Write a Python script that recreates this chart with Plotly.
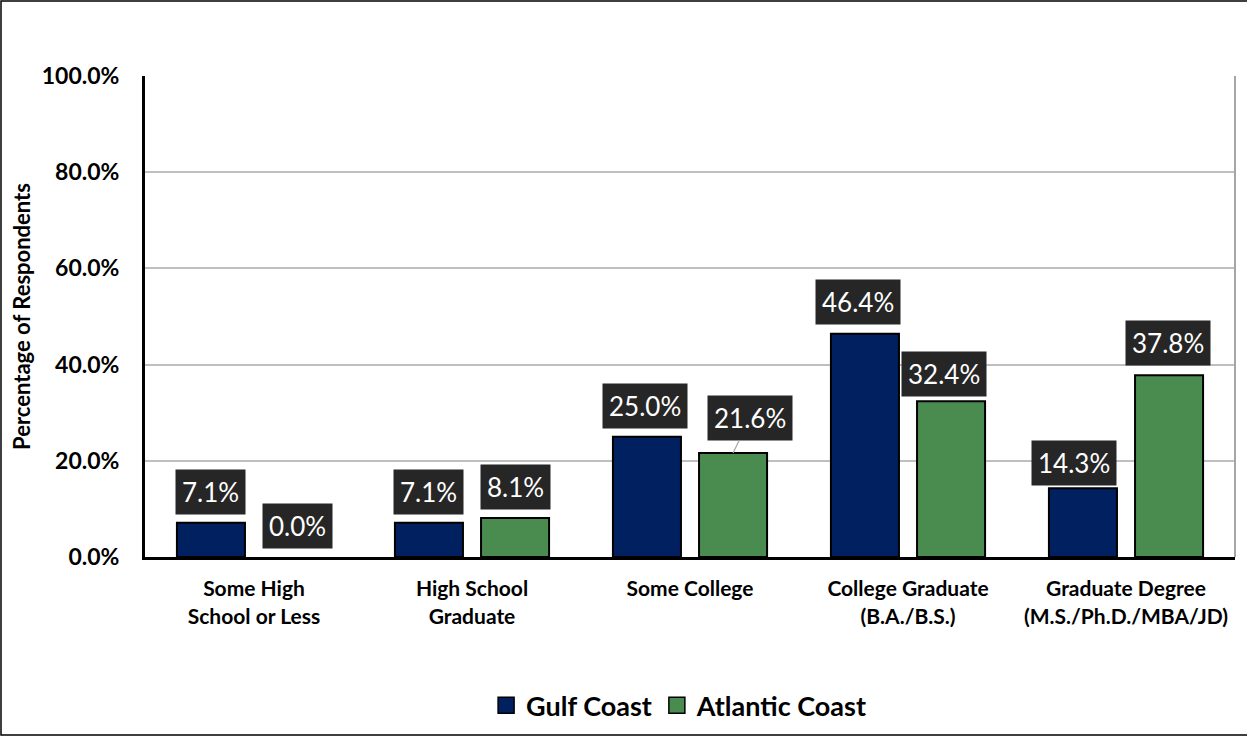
import plotly.graph_objects as go

# Education level of respondents, by coast
categories = ["Some High<br>School or Less", "High School<br>Graduate", "Some College",
              "College Graduate<br>(B.A./B.S.)", "Graduate Degree<br>(M.S./Ph.D./MBA/JD)"]
gulf = [7.1, 7.1, 25.0, 46.4, 14.3]
atlantic = [0.0, 8.1, 21.6, 32.4, 37.8]
y_ticks = [0, 20, 40, 60, 80, 100]

GULF_COLOR = "#002060"
ATL_COLOR = "#4A8B50"
FONT = "Lato, 'Open Sans', sans-serif"

# label box offsets in pixels (dx, dy) relative to the bar top
gulf_offsets = [(0, -31), (0, -31), (-2, -31), (-7, -32), (-9, -25)]
atl_offsets = [(0, -31), (0, -31), (17, -35), (-7, -27), (-1, -32)]

BARGAP = 0.21
slot = (1 - BARGAP) / 4  # half-slot offset of each bar from the category centre

xs = list(range(len(categories)))
fig = go.Figure()
fig.add_bar(name="Gulf Coast", x=xs, y=gulf, showlegend=False,
            marker=dict(color=GULF_COLOR,
                        line=dict(color="black", width=[0 if v == 0 else 2 for v in gulf])))
fig.add_bar(name="Atlantic Coast", x=xs, y=atlantic, showlegend=False,
            marker=dict(color=ATL_COLOR,
                        line=dict(color="black", width=[0 if v == 0 else 2 for v in atlantic])))

# legend entries with larger square swatches
for name, color in (("Gulf Coast", GULF_COLOR), ("Atlantic Coast", ATL_COLOR)):
    fig.add_scatter(x=[None], y=[None], mode="markers", name=name,
                    marker=dict(symbol="square", size=16, color=color,
                                line=dict(color="black", width=1.5)))

annotations = []
for series, offsets, sign in ((gulf, gulf_offsets, -1), (atlantic, atl_offsets, 1)):
    for i, v in enumerate(series):
        dx, dy = offsets[i]
        leader = (sign == 1 and i == 2)
        annotations.append(dict(
            x=i + sign * slot, y=v, xref="x", yref="y",
            text=f"{v:.1f}%", showarrow=True, ax=dx, ay=dy,
            arrowhead=0, arrowwidth=1.2,
            arrowcolor="#a6a6a6" if leader else "rgba(0,0,0,0)",
            standoff=0, startstandoff=0,
            font=dict(family=FONT, size=26, color="white"),
            bgcolor="#262626", borderpad=6,
        ))

fig.update_layout(
    width=1247, height=736,
    margin=dict(l=145, r=12, t=76, b=179, autoexpand=False),
    paper_bgcolor="white", plot_bgcolor="white",
    barmode="group", bargap=BARGAP, bargroupgap=0.21,
    font=dict(family=FONT, color="black"),
    showlegend=True,
    legend=dict(orientation="h", x=0.49, xanchor="center",
                yref="container", y=0.041, yanchor="middle",
                font=dict(family=FONT, size=27, color="black", weight="bold"),
                itemsizing="trace", traceorder="normal"),
    annotations=annotations,
    xaxis=dict(
        tickmode="array", tickvals=xs, ticktext=categories,
        range=[-0.5, len(categories) - 0.5],
        tickfont=dict(family=FONT, size=21, color="black", weight="bold"),
        showline=True, linecolor="black", linewidth=3, showgrid=False,
        ticks="", ticklabelstandoff=11, zeroline=False,
    ),
    yaxis=dict(
        range=[0, 100], tickvals=y_ticks, ticktext=[f"{t:.1f}%" for t in y_ticks],
        tickfont=dict(family=FONT, size=23, color="black", weight="bold"),
        showline=True, linecolor="black", linewidth=3,
        showgrid=True, gridcolor="#bfbfbf", gridwidth=1.5, zeroline=False,
        ticks="", ticklabelstandoff=18,
        title=dict(text="Percentage of Respondents",
                   font=dict(family=FONT, size=22, color="black", weight="bold"),
                   standoff=6),
    ),
    shapes=[
        # right-hand plot edge
        dict(type="line", xref="paper", yref="paper", x0=1, x1=1, y0=0, y1=1,
             line=dict(color="#a6a6a6", width=2)),
        # outer chart frame
        dict(type="rect", xref="paper", yref="paper",
             x0=-144 / 1090, x1=1.05, y0=(557 - 735) / 481, y1=(557 - 1) / 481,
             line=dict(color="black", width=1.5), layer="below"),
    ],
)

fig.write_html("out.html")
